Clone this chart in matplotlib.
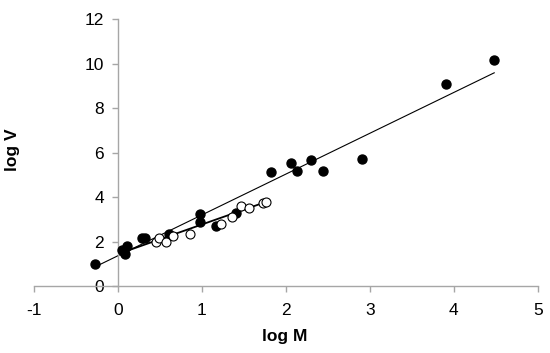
import matplotlib
matplotlib.use("Agg")
import matplotlib.pyplot as plt
import numpy as np

# Filled circles
filled_x = [-0.275, 0.046, 0.079, 0.108, 0.07, 0.283, 0.317, 0.608, 0.971, 0.979,
            1.171, 1.40, 1.825, 2.063, 2.129, 2.296, 2.442, 2.904, 3.90, 4.483]
filled_y = [1.01, 1.64, 1.43, 1.79, 1.55, 2.19, 2.19, 2.34, 3.23, 2.88,
            2.69, 3.29, 5.12, 5.54, 5.17, 5.66, 5.20, 5.74, 9.08, 10.18]

# Open circles
open_x = [0.454, 0.483, 0.567, 0.658, 0.862, 1.221, 1.358, 1.463, 1.563, 1.725, 1.758]
open_y = [2.00, 2.19, 2.01, 2.28, 2.34, 2.82, 3.12, 3.59, 3.53, 3.75, 3.80]

# Fit lines: (intercept, slope, x range)
fit1_coef = (1.374, 1.836)
fit1_range = [-0.28, 4.48]
fit2_coef = (1.45, 1.33)
fit2_range = [0.02, 1.77]

x_ticks = [-1, 0, 1, 2, 3, 4, 5]
y_ticks = [0, 2, 4, 6, 8, 10, 12]

plt.rcParams['font.family'] = ['Liberation Sans', 'DejaVu Sans']
plt.rcParams['axes.unicode_minus'] = False

fig = plt.figure(figsize=(5.5, 3.53), dpi=100)
ax = fig.add_axes([0.0618, 0.189, 0.978 - 0.0618, 0.945 - 0.189])

axis_col = '#a6a6a6'
for s in ['top', 'right']:
    ax.spines[s].set_visible(False)
ax.spines['left'].set_position(('data', 0))
ax.spines['bottom'].set_position(('data', 0))
for s in ['left', 'bottom']:
    ax.spines[s].set_color(axis_col)
    ax.spines[s].set_linewidth(1.0)

ax.set_xlim(-1, 5)
ax.set_ylim(0, 12)
ax.set_xticks(x_ticks)
ax.set_yticks(y_ticks)
ax.tick_params(axis='both', colors=axis_col, labelcolor='black', labelsize=12.5,
               direction='out', length=4, width=1.0)
ax.tick_params(axis='x', pad=8)
ax.tick_params(axis='y', pad=6)

fx = np.array(fit1_range)
ax.plot(fx, fit1_coef[0] + fit1_coef[1] * fx, color='black', lw=0.8, zorder=2)
fx2 = np.array(fit2_range)
ax.plot(fx2, fit2_coef[0] + fit2_coef[1] * fx2, color='black', lw=1.3, zorder=2)

ax.scatter(filled_x, filled_y, s=42, color='black', zorder=3, clip_on=False)
ax.scatter(open_x, open_y, s=42, facecolor='white', edgecolor='black',
           linewidths=0.8, zorder=4, clip_on=False)

fig.text(285 / 550, 1 - 337 / 353, 'log M', ha='center', va='center',
         fontsize=12.5, fontweight='bold')
fig.text(13 / 550, 1 - 150 / 353, 'log V', ha='center', va='center',
         rotation=90, fontsize=12.5, fontweight='bold')

fig.savefig('out.png', dpi=100)
